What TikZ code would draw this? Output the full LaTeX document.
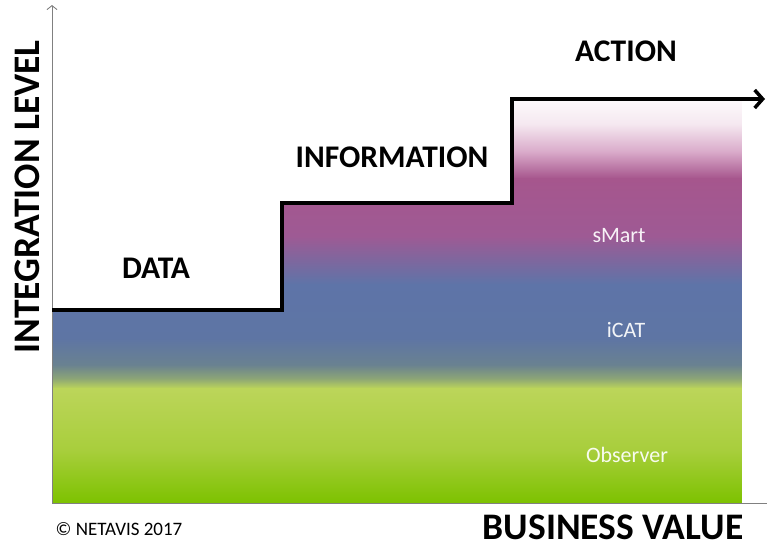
\documentclass[tikz,border=0pt]{standalone}
\usepackage{fontspec}
\setmainfont{Carlito}
\usetikzlibrary{arrows.meta}
\definecolor{axisgray}{HTML}{808080}
\definecolor{cW}{HTML}{FDFAFC}
\definecolor{cP1}{HTML}{F5E8F0}
\definecolor{cP2}{HTML}{D9A9C9}
\definecolor{cP3}{HTML}{A6568D}
\definecolor{cP4}{HTML}{9E5A94}
\definecolor{cB1}{HTML}{5E74A8}
\definecolor{cB2}{HTML}{5E75A4}
\definecolor{cT1}{HTML}{6A8290}
\definecolor{cT2}{HTML}{8FA874}
\definecolor{cG1}{HTML}{BCD55A}
\definecolor{cG2}{HTML}{A8CE3C}
\definecolor{cG3}{HTML}{7DC200}
\tikzset{
  steptitle/.style={font=\bfseries\fontsize{31.5}{34}\selectfont, text=black, inner sep=0pt},
  axistitle/.style={font=\bfseries\fontsize{37.5}{40}\selectfont, text=black, inner sep=0pt},
  bandlabel/.style={font=\fontsize{22}{24}\selectfont, text=white, text opacity=0.92, inner sep=0pt},
  band/.style 2 args={top color=#1, bottom color=#2, draw=none},
}
\begin{document}
\begin{tikzpicture}[x=1pt,y=-1pt]
\useasboundingbox (0,0) rectangle (767,549);
% coloured area under the steps
\begin{scope}
\clip (52,503) -- (52,310) -- (282,310) -- (282,203) -- (512,203) -- (512,99) -- (742,99) -- (742,503) -- cycle;
\shade[band={cW}{cP1}] (52,99) rectangle (742,124.5);
\shade[band={cP1}{cP2}] (52,124) rectangle (742,152.5);
\shade[band={cP2}{cP3}] (52,152) rectangle (742,178.5);
\shade[band={cP3}{cP4}] (52,178) rectangle (742,236.5);
\shade[band={cP4}{cB1}] (52,236) rectangle (742,284.5);
\shade[band={cB1}{cB2}] (52,284) rectangle (742,338.5);
\shade[band={cB2}{cT1}] (52,338) rectangle (742,365.5);
\shade[band={cT1}{cT2}] (52,365) rectangle (742,379.5);
\shade[band={cT2}{cG1}] (52,379) rectangle (742,388.5);
\shade[band={cG1}{cG2}] (52,388) rectangle (742,450.5);
\shade[band={cG2}{cG3}] (52,450) rectangle (742,503);
\end{scope}
% axes
\coordinate (origin) at (52,503);
\coordinate (ytip) at (52,5);
\coordinate (xend) at (767,503);
\draw[axisgray, line width=0.9pt, -{Straight Barb[length=4pt,width=10pt]}] (origin) -- (ytip);
\draw[axisgray, line width=1pt] (origin) -- (xend);
% step line
\coordinate (s0) at (52,310);
\coordinate (s1) at (282,310);
\coordinate (s2) at (282,203);
\coordinate (s3) at (512,203);
\coordinate (s4) at (512,99);
\coordinate (s5) at (765,99);
\draw[black, line width=3.5pt, line join=miter, -{Straight Barb[length=8pt,width=18pt]}]
  (s0) -- (s1) -- (s2) -- (s3) -- (s4) -- (s5);
% step titles
\node[steptitle] (data) at (156,268) {DATA};
\node[steptitle] (info) at (392,157) {INFORMATION};
\node[steptitle] (action) at (626,51) {ACTION};
% band labels
\node[bandlabel] (smart) at (619,236) {sMart};
\node[bandlabel] (icat) at (626,330) {iCAT};
\node[bandlabel] (observer) at (627,455) {Observer};
% axis titles
\node[axistitle, rotate=90] (ylabel) at (27,197) {INTEGRATION LEVEL};
\node[axistitle] (xlabel) at (613,527) {BUSINESS VALUE};
\node[font=\fontsize{19}{21}\selectfont, inner sep=0pt] (copy) at (119,529) {© NETAVIS 2017};
\end{tikzpicture}
\end{document}
